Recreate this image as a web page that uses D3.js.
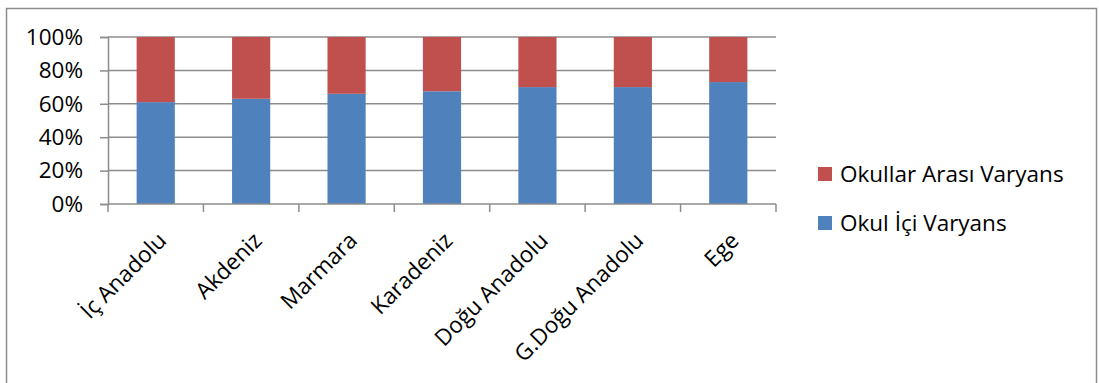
<!DOCTYPE html>
<html>
<head>
<meta charset="utf-8">
<script src="https://cdn.jsdelivr.net/npm/d3@7"></script>
<style>
  html, body { margin: 0; padding: 0; background: #fff; }
  svg text { font-family: "Open Sans", "Noto Sans", sans-serif; fill: #000; }
</style>
</head>
<body>
<svg id="chart" width="1099" height="383"></svg>
<script>
// Regional variance decomposition (share of total variance)
const regions = ["İç Anadolu", "Akdeniz", "Marmara", "Karadeniz", "Doğu Anadolu", "G.Doğu Anadolu", "Ege"];
const withinSchool = [0.61, 0.63, 0.66, 0.675, 0.70, 0.70, 0.73];   // Okul İçi Varyans
const betweenSchool = withinSchool.map(v => 1 - v);                  // Okullar Arası Varyans (remainder to 100%)
const yTicks = [0, 0.2, 0.4, 0.6, 0.8, 1.0];
const seriesNames = ["Okullar Arası Varyans", "Okul İçi Varyans"];
const seriesColors = { "Okul İçi Varyans": "#4F81BD", "Okullar Arası Varyans": "#C0504D" };

const svg = d3.select("#chart");
const gridColor = "#8c8c8c";
const fontSize = "22.5px";

// outer frame
svg.append("rect")
  .attr("x", 6.5).attr("y", 8.5).attr("width", 1090).attr("height", 400)
  .attr("fill", "none").attr("stroke", gridColor).attr("stroke-width", 1.5);

const plot = { left: 108, right: 776, top: 37, bottom: 204 };

const x = d3.scaleBand().domain(regions).range([plot.left, plot.right]).paddingInner(0.6).paddingOuter(0.3);
const y = d3.scaleLinear().domain([0, 1]).range([plot.bottom, plot.top]);

// horizontal gridlines
svg.append("g").selectAll("line").data(yTicks.slice(1)).join("line")
  .attr("x1", plot.left).attr("x2", plot.right)
  .attr("y1", d => y(d)).attr("y2", d => y(d))
  .attr("stroke", gridColor).attr("stroke-width", 1.5);

// stacked bars
const rows = regions.map((r, i) => ({ region: r, "Okul İçi Varyans": withinSchool[i], "Okullar Arası Varyans": betweenSchool[i] }));
const stack = d3.stack().keys(["Okul İçi Varyans", "Okullar Arası Varyans"]);
svg.append("g").selectAll("g").data(stack(rows)).join("g")
  .attr("fill", s => seriesColors[s.key])
  .selectAll("rect").data(s => s).join("rect")
  .attr("x", d => x(d.data.region))
  .attr("width", x.bandwidth())
  .attr("y", d => y(d[1]))
  .attr("height", d => y(d[0]) - y(d[1]));

// y axis
const yAxis = d3.axisLeft(y).tickValues(yTicks).tickFormat(d3.format(".0%")).tickSize(8).tickPadding(17);
const gy = svg.append("g").attr("transform", `translate(${plot.left},0)`).call(yAxis);
gy.select(".domain").attr("stroke", gridColor).attr("stroke-width", 1.5);
gy.selectAll(".tick line").attr("stroke", gridColor).attr("stroke-width", 1.5);
gy.selectAll(".tick text").style("font-size", fontSize);

// x axis: tick marks at category boundaries
const bounds = d3.range(regions.length + 1).map(i => plot.left + i * x.step());
const gx = svg.append("g");
gx.append("line").attr("x1", plot.left).attr("x2", plot.right).attr("y1", plot.bottom).attr("y2", plot.bottom)
  .attr("stroke", gridColor).attr("stroke-width", 1.5);
gx.selectAll("line.tk").data(bounds).join("line").attr("class", "tk")
  .attr("x1", d => d).attr("x2", d => d).attr("y1", plot.bottom).attr("y2", plot.bottom + 8)
  .attr("stroke", gridColor).attr("stroke-width", 1.5);
gx.selectAll("text").data(regions).join("text")
  .attr("transform", d => `translate(${x(d) + x.bandwidth() / 2 + 12},${plot.bottom + 38}) rotate(-45)`)
  .attr("text-anchor", "end")
  .style("font-size", fontSize)
  .text(d => d);

// legend
const legend = svg.append("g").selectAll("g").data(seriesNames).join("g")
  .attr("transform", (d, i) => `translate(818,${167 + i * 49})`);
legend.append("rect").attr("width", 14).attr("height", 14).attr("fill", d => seriesColors[d]);
legend.append("text").attr("x", 22).attr("y", 7).attr("dy", "0.36em")
  .style("font-size", fontSize).text(d => d);
</script>
</body>
</html>
